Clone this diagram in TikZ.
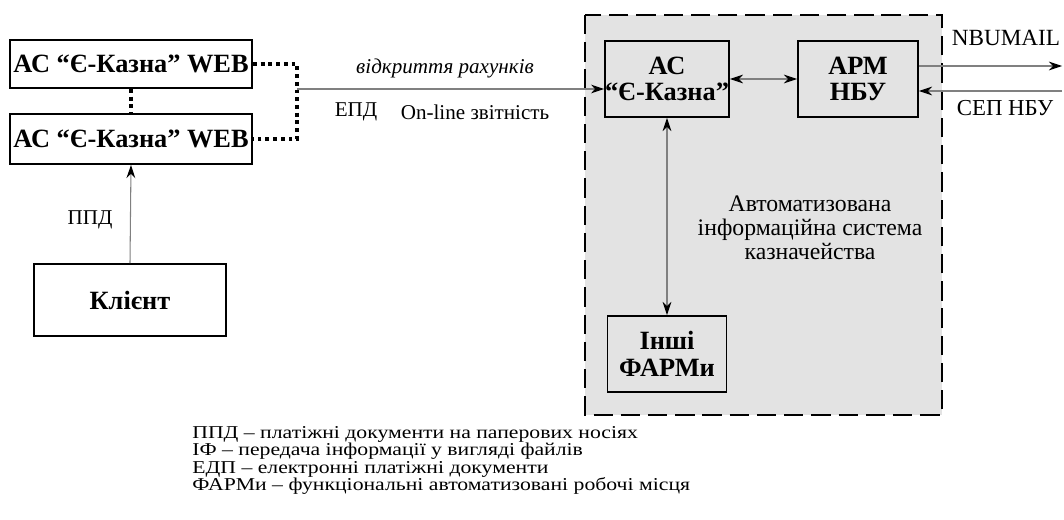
\documentclass[tikz,border=0pt]{standalone}
\usepackage{fontspec}
\setmainfont{Liberation Serif}
\newfontfamily\legendfont[FakeStretch=1.2, Ligatures=TeX]{Liberation Serif}
\usetikzlibrary{arrows.meta, positioning}

\begin{document}
\begin{tikzpicture}[
  x=0.02cm, y=-0.02cm,
  >={Stealth[length=7.5pt, width=5pt, color=black]},
  box/.style={draw=black, line width=1.1pt, inner sep=0pt, align=center,
    font=\fontsize{15}{15}\selectfont\bfseries},
  link/.style={draw=gray, line width=0.6pt},
  dots/.style={draw=black, line width=2.2pt, dash pattern=on 2.2pt off 2.2pt},
  lbl/.style={font=\fontsize{12}{14}\selectfont}
]
\useasboundingbox (0,0) rectangle (1064,520);

% treasury system area
\draw[fill=black!11, line width=1.1pt, dash pattern=on 11pt off 4.5pt]
  (585,15) rectangle (942,415);

% nodes
\node[box, minimum width=4.84cm, minimum height=0.96cm] (web1) at (131,64) {АС “Є-Казна” WEB};
\node[box, minimum width=4.84cm, minimum height=1.0cm] (web2) at (131,139) {АС “Є-Казна” WEB};
\node[box, minimum width=3.84cm, minimum height=1.44cm] (client) at (130,300) {Клієнт};
\node[box, minimum width=2.34cm, minimum height=1.52cm] (kazna) at (667,79) {АС\\“Є-Казна”};
\node[box, minimum width=2.4cm, minimum height=1.52cm] (arm) at (858,79) {АРМ\\НБУ};
\node[box, minimum width=2.38cm, minimum height=1.52cm] (farm) at (667,354) {Інші\\ФАРМи};

\coordinate (junction) at (297,89);
\coordinate (mailend) at (1062,66);
\coordinate (sepstart) at (1062,91);

% connectors
\draw[dots] (web1.south) -- (web2.north);
\draw[dots] (web1.east) -- (web1.east -| junction) -- (web2.east -| junction) -- (web2.east);
\draw[link, ->] (client.north) -- (web2.south);
\draw[link, ->] (junction) -- (junction -| kazna.west);
\draw[link, <->] (kazna.east) -- (arm.west);
\draw[link, <->] (kazna.south) -- (farm.north);
\draw[link, ->] (mailend -| arm.east) -- (mailend);
\draw[link, ->] (sepstart) -- (sepstart -| arm.east);

% labels
\node[lbl] (ppd) at (90,220) {ППД};
\node[lbl, font=\fontsize{12}{14}\selectfont\itshape] (open) at (445,68) {відкриття рахунків};
\node[lbl] (epd) at (356,112) {ЕПД};
\node[lbl] (online) at (475,112) {On-line звітність};
\node[lbl, font=\fontsize{13.2}{14}\selectfont] (nbumail) at (1006,38) {NBUMAIL};
\node[lbl, font=\fontsize{13}{14}\selectfont] (sep) at (1005,108) {СЕП НБУ};
\node[lbl, align=center, font=\fontsize{13.5}{13.6}\selectfont] (ais) at (810,228)
  {Автоматизована\\інформаційна система\\казначейства};

% legend
\node[anchor=north west, align=left, inner sep=0pt,
  font={\legendfont\fontsize{10.3}{9.9}\selectfont\lineskiplimit=-10pt}] (legend) at (192,426)
  {ППД – платіжні документи на паперових носіях\\
   ІФ – передача інформації у вигляді файлів\\
   ЕДП – електронні платіжні документи\\
   ФАРМи – функціональні автоматизовані робочі місця};
\end{tikzpicture}
\end{document}
